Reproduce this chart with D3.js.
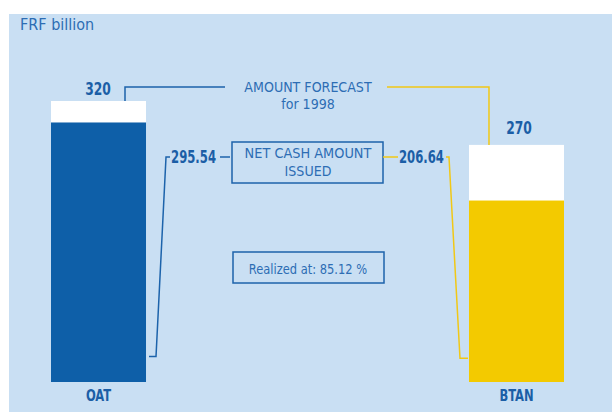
<!DOCTYPE html>
<html>
<head>
<meta charset="utf-8">
<script src="https://cdn.jsdelivr.net/npm/d3@7"></script>
<style>
  body { margin: 0; background: #fff; }
  text { font-family: "DejaVu Sans Condensed", "Roboto", sans-serif; }
</style>
</head>
<body>
<div id="wrapper"></div>
<script>
const categories = ["OAT", "BTAN"]
const forecast = [320, 270]
const issued = [295.54, 206.64]
const realized = 85.12
const unitLabel = "FRF billion"

const barColors = ["#0e5fa8", "#f3ca00"]
const lineColors = ["#1c63ab", "#f1c816"]
const textBlue = "#1b5ea6"
const labelBlue = "#2d6db4"

const width = 613, height = 412

// squeeze a text horizontally, the original uses a condensed face
function condense(sel, f) {
    sel.each(function () {
        const w = this.getComputedTextLength()
        d3.select(this)
            .attr("textLength", w * f)
            .attr("lengthAdjust", "spacingAndGlyphs")
    })
}

let svg = d3.select("#wrapper")
    .append("svg")
    .attr("width", width)
    .attr("height", height)

// background panel
svg.append("rect")
    .attr("x", 9).attr("y", 14)
    .attr("width", 603).attr("height", 398)
    .attr("fill", "#c9dff3")

svg.append("text")
    .attr("x", 20).attr("y", 30)
    .attr("font-size", 16.5)
    .attr("fill", labelBlue)
    .text(unitLabel)
    .call(condense, 0.97)

let x = d3.scaleBand()
    .domain(categories)
    .range([51, 564])
    .paddingInner(0.7727)

let y = d3.scaleLinear()
    .domain([0, 320])
    .range([382, 101])

let bars = svg.append("g")

// forecast (white) part
bars.selectAll(".forecast")
    .data(categories)
    .enter()
    .append("rect")
    .attr("x", d => x(d))
    .attr("width", x.bandwidth())
    .attr("y", (d, i) => y(forecast[i]))
    .attr("height", (d, i) => y(0) - y(forecast[i]))
    .attr("fill", "#ffffff")

// issued part
bars.selectAll(".issued")
    .data(categories)
    .enter()
    .append("rect")
    .attr("x", d => x(d))
    .attr("width", x.bandwidth())
    .attr("y", (d, i) => y(issued[i]))
    .attr("height", (d, i) => y(0) - y(issued[i]))
    .attr("fill", (d, i) => barColors[i])

// category labels
bars.selectAll(".cat")
    .data(categories)
    .enter()
    .append("text")
    .attr("x", d => x(d) + x.bandwidth() / 2)
    .attr("y", 401)
    .attr("text-anchor", "middle")
    .attr("font-size", 16)
    .attr("font-weight", "bold")
    .attr("fill", textBlue)
    .text(d => d)
    .call(condense, 0.8)

// forecast values
bars.selectAll(".fval")
    .data(categories)
    .enter()
    .append("text")
    .attr("x", (d, i) => i === 0 ? x(d) + 47 : x(d) + 50)
    .attr("y", (d, i) => y(forecast[i]) - (i === 0 ? 6 : 11))
    .attr("text-anchor", "middle")
    .attr("font-size", 17.5)
    .attr("font-weight", "bold")
    .attr("fill", textBlue)
    .text((d, i) => forecast[i])
    .call(condense, 0.78)

const line = d3.line()
const oatX = x("OAT"), btanX = x("BTAN"), bw = x.bandwidth()
const topY = 87, midY = 157

function path(pts, color) {
    svg.append("path")
        .attr("d", line(pts))
        .attr("fill", "none")
        .attr("stroke", color)
        .attr("stroke-width", 1.5)
}

function label(xp, yp, txt, f) {
    svg.append("text")
        .attr("x", xp).attr("y", yp)
        .attr("text-anchor", "middle")
        .attr("font-size", 14.5)
        .attr("fill", labelBlue)
        .text(txt)
        .call(condense, f || 0.97)
}

// amount forecast connectors
path([[oatX + 74, y(forecast[0])], [oatX + 74, topY], [225, topY]], lineColors[0])
path([[387, topY], [btanX + 20, topY], [btanX + 20, y(forecast[1])]], lineColors[1])

label(308, 92, "AMOUNT FORECAST")
label(308, 109, "for 1998")

// net cash amount box
svg.append("rect")
    .attr("x", 232).attr("y", 142)
    .attr("width", 151).attr("height", 41)
    .attr("fill", "none")
    .attr("stroke", lineColors[0])
    .attr("stroke-width", 1.5)
label(308, 158, "NET CASH AMOUNT", 0.99)
label(308, 176, "ISSUED")

// issued connectors
path([[oatX + bw + 24, midY], [oatX + bw + 20, midY], [oatX + bw + 10, y(29)], [oatX + bw + 3, y(29)]], lineColors[0])
path([[220, midY], [230, midY]], lineColors[0])
svg.append("text")
    .attr("x", 216).attr("y", midY + 6)
    .attr("text-anchor", "end")
    .attr("font-size", 17.5)
    .attr("font-weight", "bold")
    .attr("fill", textBlue)
    .text(issued[0].toFixed(2))
    .call(condense, 0.74)

path([[383, midY], [398, midY]], lineColors[1])
svg.append("text")
    .attr("x", 399).attr("y", midY + 6)
    .attr("font-size", 17.5)
    .attr("font-weight", "bold")
    .attr("fill", textBlue)
    .text(issued[1].toFixed(2))
    .call(condense, 0.74)
path([[btanX - 23, midY], [btanX - 20, midY], [btanX - 9, y(27)], [btanX - 1, y(27)]], lineColors[1])

// realized box
svg.append("rect")
    .attr("x", 233).attr("y", 252)
    .attr("width", 151).attr("height", 31)
    .attr("fill", "none")
    .attr("stroke", lineColors[0])
    .attr("stroke-width", 1.5)
label(308, 274, `Realized at: ${realized.toFixed(2)} %`, 0.88)
</script>
</body>
</html>
